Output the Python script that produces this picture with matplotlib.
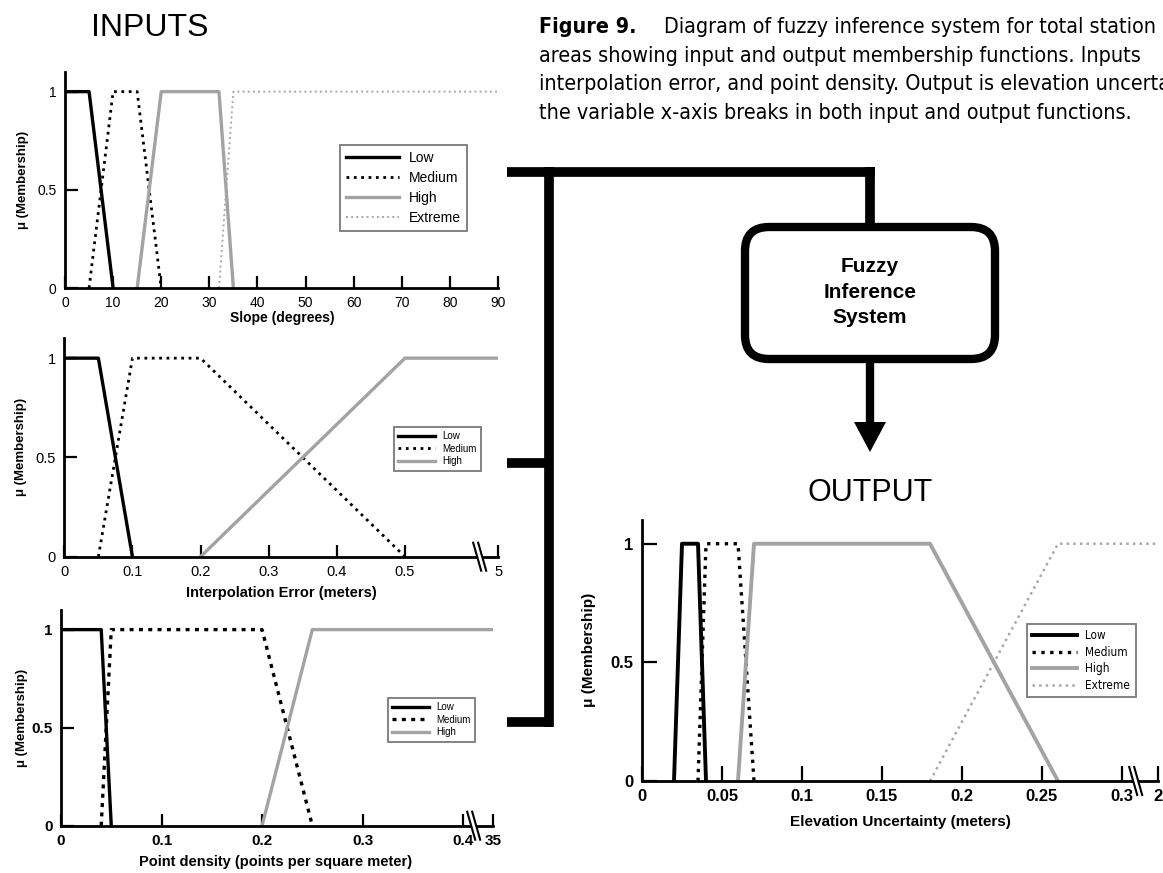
import numpy as np
import matplotlib
matplotlib.use("Agg")
import matplotlib.pyplot as plt
from matplotlib import font_manager as fm
from matplotlib.patches import FancyBboxPatch, Polygon

W, H = 1163, 873
plt.rcParams["font.family"] = ["Liberation Sans", "DejaVu Sans"]

# pick a narrow face for the caption if one is installed
narrow = None
for f in fm.fontManager.ttflist:
    p = f.fname.lower()
    if ("condensed" in p or "narrow" in p) and "mono" not in p and "serif" not in p \
            and f.style == "normal":
        narrow = f
        break
if narrow is not None:
    CAP = dict(family=[narrow.name, "Liberation Sans"], stretch=narrow.stretch)
else:
    CAP = dict(family=["Liberation Sans", "DejaVu Sans"])

# ---- data: membership function breakpoints (x, mu) ----
slope_ticks = [0, 10, 20, 30, 40, 50, 60, 70, 80, 90]
slope_low_x, slope_low_y = [0, 5, 10], [1, 1, 0]
slope_med_x, slope_med_y = [5, 10, 15, 20], [0, 1, 1, 0]
slope_high_x, slope_high_y = [15, 20, 32, 35], [0, 1, 1, 0]
slope_ext_x, slope_ext_y = [32, 35, 90], [0, 1, 1]

interp_ticks = [0, 0.1, 0.2, 0.3, 0.4, 0.5, 5]
interp_low_x, interp_low_y = [0, 0.05, 0.1], [1, 1, 0]
interp_med_x, interp_med_y = [0.05, 0.1, 0.2, 0.5], [0, 1, 1, 0]
interp_high_x, interp_high_y = [0.2, 0.5, 5], [0, 1, 1]

dens_ticks = [0, 0.1, 0.2, 0.3, 0.4, 35]
dens_low_x, dens_low_y = [0, 0.04, 0.05], [1, 1, 0]
dens_med_x, dens_med_y = [0.04, 0.05, 0.2, 0.25], [0, 1, 1, 0]
dens_high_x, dens_high_y = [0.2, 0.25, 35], [0, 1, 1]

elev_ticks = [0, 0.05, 0.1, 0.15, 0.2, 0.25, 0.3, 2]
elev_low_x, elev_low_y = [0.02, 0.025, 0.035, 0.04], [0, 1, 1, 0]
elev_med_x, elev_med_y = [0.035, 0.04, 0.06, 0.07], [0, 1, 1, 0]
elev_high_x, elev_high_y = [0.06, 0.07, 0.18, 0.26], [0, 1, 1, 0]
elev_ext_x, elev_ext_y = [0.18, 0.26, 2], [0, 1, 1]

caption_head = "Figure 9."
caption_lines = [
    "Diagram of fuzzy inference system for total station",
    "areas showing input and output membership functions. Inputs",
    "interpolation error, and point density. Output is elevation uncertainty.",
    "the variable x-axis breaks in both input and output functions.",
]

LOW = dict(color="black", lw=2.4, ls="-")
MED = dict(color="black", lw=2.0, ls=":")
HIGH = dict(color="#a3a3a3", lw=2.4, ls="-")
EXT = dict(color="#a8a8a8", lw=1.4, ls=":")

fig = plt.figure(figsize=(W / 100, H / 100), dpi=100)


def px_rect(l, t, r, b):
    return [l / W, 1 - b / H, (r - l) / W, (b - t) / H]


def squash(x, brk, end_val, end_pos):
    # compress everything past the axis break into the last few pixels
    return np.interp(x, [0, brk, end_val], [0, brk, end_pos])


def panel(rect, xmax, ticks, tick_fs, tick_w, fx=lambda v: np.asarray(v)):
    ax = fig.add_axes(px_rect(*rect))
    ax.set_xlim(0, xmax)
    ax.set_ylim(0, 1.1)
    for s in ("top", "right"):
        ax.spines[s].set_visible(False)
    for s in ("left", "bottom"):
        ax.spines[s].set_linewidth(2)
    ax.set_xticks(fx(ticks), [f"{t:g}" for t in ticks])
    ax.set_yticks([0, 0.5, 1], ["0", "0.5", "1"])
    ax.tick_params(direction="in", length=9, width=1.6, labelsize=tick_fs,
                   colors="black", pad=6)
    for lab in ax.get_xticklabels() + ax.get_yticklabels():
        lab.set_fontweight(tick_w)
    return ax


def labels(ax, rect, xlabel, xy_x, ylab_xy, fs_x, fs_y):
    l, t, r, b = rect
    ax.set_xlabel(xlabel, fontsize=fs_x, fontweight="bold")
    ax.xaxis.set_label_coords((xy_x[0] - l) / (r - l), (b - xy_x[1]) / (b - t))
    ax.xaxis.label.set_va("center")
    ax.set_ylabel("\u03bc (Membership)", fontsize=fs_y, fontweight="bold")
    ax.yaxis.set_label_coords((ylab_xy[0] - l) / (r - l), (b - ylab_xy[1]) / (b - t))
    ax.yaxis.label.set_va("center")


def add_break(ax, rect, xpos, xmax):
    l, t, r, b = rect
    w, h = r - l, b - t
    xa = xpos / xmax
    dx, dy, gap = 4 / w, 14 / h, 5 / w
    ax.add_patch(Polygon([(xa - dx, dy), (xa - dx + gap, dy), (xa + dx + gap, -dy),
                          (xa + dx, -dy)], closed=True, fc="white", ec="none",
                         transform=ax.transAxes, clip_on=False, zorder=5))
    for g in (0, gap):
        ax.plot([xa - dx + g, xa + dx + g], [dy, -dy], color="black", lw=1.5,
                transform=ax.transAxes, clip_on=False, zorder=6)


def legend(ax, x, y, fs, spacing=0.25, prop=None):
    prop = dict(prop or {}, size=fs)
    leg = ax.legend(loc="upper left", bbox_to_anchor=(x / W, 1 - y / H),
                    bbox_transform=fig.transFigure, fancybox=False,
                    edgecolor="#7a7a7a", framealpha=1, borderaxespad=0,
                    handlelength=3.8, labelspacing=spacing, borderpad=0.45,
                    handletextpad=0.7, prop=prop)
    leg.get_frame().set_linewidth(1.3)
    return leg


# ---- diagram overlay in pixel coordinates ----
ax0 = fig.add_axes([0, 0, 1, 1], zorder=-1)
ax0.set_xlim(0, W)
ax0.set_ylim(H, 0)
ax0.axis("off")

LW = 7
half = 4.9
kw = dict(color="black", lw=LW, solid_capstyle="butt")
ax0.plot([507, 870 + half], [172, 172], **kw)
ax0.plot([870, 870], [172 - half, 228], **kw)
ax0.plot([549, 549], [172 - half, 722 + half], **kw)
ax0.plot([507, 549], [463, 463], **kw)
ax0.plot([507, 549], [722, 722], **kw)
ax0.add_patch(FancyBboxPatch((745, 227), 250, 132,
                             boxstyle="round,pad=0,rounding_size=24",
                             lw=6, ec="black", fc="white", zorder=3))
ax0.plot([870, 870], [359, 424], color="black", lw=6, solid_capstyle="butt")
ax0.add_patch(Polygon([(854, 422), (886, 422), (870, 452)], closed=True, fc="black"))
ax0.text(870, 292, "Fuzzy\nInference\nSystem", ha="center", va="center",
         fontsize=15, fontweight="bold", linespacing=1.45, zorder=4)

ax0.text(150, 28, "INPUTS", ha="center", va="center", fontsize=23)
ax0.text(870, 493, "OUTPUT", ha="center", va="center", fontsize=22)

# caption: size the font so lines 1 and 2 span the same width as in the print
GAP = 27
probe2 = ax0.text(539, 62, caption_lines[1], fontsize=20, va="baseline", **CAP)
probe1a = ax0.text(539, 33, caption_head, fontsize=20, fontweight="bold", va="baseline", **CAP)
probe1b = ax0.text(539, 33, caption_lines[0], fontsize=20, va="baseline", **CAP)
fig.canvas.draw()
w2 = probe2.get_window_extent().width
w1 = probe1a.get_window_extent().width + probe1b.get_window_extent().width
cap_fs = min(20 * 614 / w2, 20 * (615 - GAP) / w1)
for t in (probe2, probe1a, probe1b):
    t.remove()
head = ax0.text(539, 33, caption_head, fontsize=cap_fs, fontweight="bold",
                va="baseline", **CAP)
fig.canvas.draw()
head_end = head.get_window_extent().x1
ax0.text(head_end + GAP, 33, caption_lines[0], fontsize=cap_fs, va="baseline", **CAP)
for i, line in enumerate(caption_lines[1:]):
    ax0.text(539, 62 + 28.3 * i, line, fontsize=cap_fs, va="baseline", **CAP)

# ---- slope ----
r1 = (65, 72, 498, 288)
ax1 = panel(r1, 90, slope_ticks, 10, "normal")
ax1.plot(slope_low_x, slope_low_y, label="Low", **LOW)
ax1.plot(slope_med_x, slope_med_y, label="Medium", **MED)
ax1.plot(slope_high_x, slope_high_y, label="High", **HIGH)
ax1.plot(slope_ext_x, slope_ext_y, label="Extreme", **EXT)
labels(ax1, r1, "Slope (degrees)", (282, 318), (23, 180), 10, 9.5)
legend(ax1, 340, 145, 10, spacing=0.42)

# ---- interpolation error ----
r2 = (64.3, 338.3, 498.3, 556.7)
f2 = lambda v: squash(v, 0.6, 5, 0.637)
ax2 = panel(r2, 0.637, interp_ticks, 10.5, "normal", f2)
ax2.plot(f2(interp_low_x), interp_low_y, label="Low", **LOW)
ax2.plot(f2(interp_med_x), interp_med_y, label="Medium", **MED)
ax2.plot(f2(interp_high_x), interp_high_y, label="High", **HIGH)
labels(ax2, r2, "Interpolation Error (meters)", (281, 593), (21, 447), 10.5, 9.5)
legend(ax2, 394, 427, 7)
add_break(ax2, r2, 0.606, 0.637)

# ---- point density ----
r3 = (61, 610, 493.3, 825.7)
f3 = lambda v: squash(v, 0.41, 35, 0.43)
ax3 = panel(r3, 0.43, dens_ticks, 11, "bold", f3)
ax3.plot(f3(dens_low_x), dens_low_y, label="Low", **LOW)
ax3.plot(f3(dens_med_x), dens_med_y, label="Medium", color="black", lw=2.4, ls=(0, (1.2, 1.6)))
ax3.plot(f3(dens_high_x), dens_high_y, label="High", **HIGH)
labels(ax3, r3, "Point density (points per square meter)", (276, 862), (22, 718), 10.5, 9.5)
legend(ax3, 388, 698, 7)
add_break(ax3, r3, 0.408, 0.43)

# ---- elevation uncertainty (output) ----
r4 = (642, 520, 1158, 781)
f4 = lambda v: squash(v, 0.305, 2, 0.3225)
ax4 = panel(r4, 0.3225, elev_ticks, 12, "bold", f4)
ax4.tick_params(length=11)
ax4.plot(f4(elev_low_x), elev_low_y, label="Low", color="black", lw=2.8)
ax4.plot(f4(elev_med_x), elev_med_y, label="Medium", color="black", lw=2.4, ls=":")
ax4.plot(f4(elev_high_x), elev_high_y, label="High", color="#a3a3a3", lw=2.8)
ax4.plot(f4(elev_ext_x), elev_ext_y, label="Extreme", color="#a8a8a8", lw=1.8, ls=":")
labels(ax4, r4, "Elevation Uncertainty (meters)", (900, 822), (589, 650), 11, 11)
legend(ax4, 1027, 624, 8.5, spacing=0.3, prop=CAP)
add_break(ax4, r4, 0.307, 0.3225)

fig.savefig("out.png", dpi=100)
